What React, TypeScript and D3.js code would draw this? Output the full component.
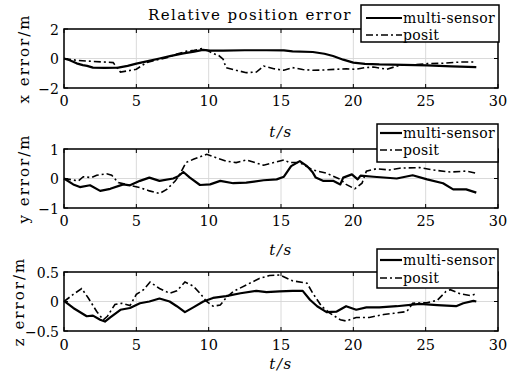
import React from 'react';
import * as d3 from 'd3';

type Pt = [number, number];

const timeTicks = [0, 5, 10, 15, 20, 25, 30];
const xErrTicks = [-2, 0, 2];
const yErrTicks = [-1, 0, 1];
const zErrTicks = [-0.5, 0, 0.5];
const seriesNames = ['multi-sensor', 'posit'];
const panelLabels = ['x error/m', 'y error/m', 'z error/m'];
const chartTitle = 'Relative position error';
const timeLabel = 't/s';

const xMulti: Pt[] = [[0,0],[0.4,-0.12],[0.87,-0.33],[1.3,-0.45],[1.6,-0.5],[2.0,-0.62],[2.8,-0.63],[3.75,-0.62],[4.4,-0.5],[5.0,-0.35],[5.8,-0.18],[6.6,0],[7.4,0.18],[8.25,0.35],[9.0,0.47],[9.6,0.58],[10.1,0.53],[11,0.53],[12.5,0.56],[14,0.56],[15.2,0.55],[15.8,0.48],[17.2,0.44],[18,0.32],[18.6,0.17],[19.3,-0.08],[20.0,-0.28],[20.8,-0.36],[21.8,-0.4],[23.5,-0.43],[25.1,-0.46],[26.8,-0.53],[28.5,-0.58]];
const xPosit: Pt[] = [[0,0],[0.87,-0.12],[2,-0.2],[3.0,-0.25],[3.4,-0.28],[3.9,-0.92],[4.5,-0.82],[5.0,-0.73],[5.7,-0.28],[6.4,-0.1],[7.1,0.05],[7.8,0.3],[8.5,0.5],[9.0,0.55],[9.5,0.67],[9.9,0.55],[10.3,0.35],[10.7,0.2],[11.0,-0.05],[11.2,-0.62],[11.9,-0.8],[12.6,-0.96],[13.3,-0.92],[13.8,-0.51],[14.5,-0.69],[15.2,-0.8],[15.8,-0.62],[16.5,-0.75],[17.2,-0.8],[18.0,-0.78],[18.8,-0.73],[19.5,-0.7],[20.2,-0.73],[20.8,-0.62],[21.4,-0.58],[22.3,-0.73],[23.2,-0.46],[24.2,-0.42],[25.1,-0.35],[26.2,-0.32],[27.4,-0.24],[28.5,-0.24]];

const yMulti: Pt[] = [[0,0],[0.64,-0.2],[1.1,-0.29],[1.8,-0.23],[2.5,-0.42],[3.2,-0.35],[4.1,-0.2],[4.56,-0.23],[5.25,-0.08],[5.9,0.03],[6.6,-0.08],[7.55,0.0],[7.9,0.08],[8.25,0.22],[8.7,0.03],[9.4,-0.22],[10.1,-0.2],[10.8,-0.08],[11.7,-0.16],[12.6,-0.14],[13.8,-0.06],[14.7,-0.03],[15.2,0.06],[15.7,0.42],[16.3,0.59],[16.8,0.42],[17.2,0.2],[17.4,0.03],[17.9,-0.08],[18.6,-0.08],[19.1,-0.2],[19.3,0.03],[19.9,0.14],[20.3,-0.03],[20.5,0.1],[21.4,0.06],[23.0,0.0],[24.1,0.11],[25.1,-0.03],[26.2,-0.16],[26.9,-0.37],[27.8,-0.37],[28.5,-0.48]];
const yPosit: Pt[] = [[0,0],[1.0,-0.08],[1.33,0.06],[1.9,0.03],[2.26,0.11],[2.95,0.16],[3.3,0.11],[3.75,-0.14],[4.56,-0.23],[5.25,-0.31],[5.9,-0.42],[6.6,-0.51],[7.1,-0.37],[7.7,-0.08],[8.0,0.14],[8.43,0.54],[8.94,0.65],[9.86,0.82],[10.55,0.7],[11.2,0.59],[11.9,0.54],[12.6,0.63],[13.8,0.45],[14.5,0.54],[15.2,0.63],[15.6,0.54],[16.3,0.54],[17.2,0.29],[18.15,0.18],[19.1,-0.03],[19.5,-0.2],[20.1,-0.35],[20.6,-0.16],[20.9,0.25],[21.6,0.33],[22.5,0.29],[23.2,0.35],[24.6,0.37],[25.5,0.29],[26.7,0.22],[27.8,0.25],[28.5,0.18]];

const zMulti: Pt[] = [[0,0.01],[0.64,-0.11],[1.57,-0.25],[2.0,-0.24],[2.5,-0.31],[2.83,-0.34],[3.2,-0.27],[3.9,-0.14],[4.56,-0.11],[5.25,-0.03],[5.9,0.0],[6.6,0.05],[7.3,0.0],[7.8,-0.08],[8.36,-0.18],[8.94,-0.1],[9.63,0.0],[10.3,0.06],[11.2,0.09],[12.2,0.14],[13.3,0.18],[14.0,0.16],[14.9,0.17],[15.8,0.18],[16.5,0.18],[17.0,0.03],[17.5,-0.08],[18.15,-0.18],[18.85,-0.17],[19.5,-0.08],[20.2,-0.14],[20.9,-0.1],[21.8,-0.1],[23.0,-0.08],[24.6,-0.04],[25.8,-0.06],[27.1,-0.08],[27.6,-0.03],[28.3,0.01],[28.5,0.0]];
const zPosit: Pt[] = [[0,0],[0.64,0.12],[1.22,0.22],[1.68,0.06],[2.26,-0.17],[2.72,-0.31],[3.0,-0.25],[3.52,-0.05],[4.0,-0.03],[4.56,-0.07],[5.0,0.12],[5.5,0.2],[5.95,0.33],[6.6,0.22],[7.3,0.14],[7.8,0.18],[8.36,0.33],[8.94,0.26],[9.4,0.14],[9.86,0.0],[10.3,-0.08],[10.8,-0.06],[11.2,0.06],[11.7,0.17],[12.6,0.28],[13.5,0.39],[14.2,0.44],[14.9,0.45],[15.8,0.35],[16.8,0.31],[17.2,0.14],[17.8,-0.08],[18.4,-0.2],[19.1,-0.31],[19.5,-0.33],[20.2,-0.27],[21.1,-0.27],[22.1,-0.22],[22.8,-0.2],[23.7,-0.17],[24.1,-0.03],[25.1,-0.02],[25.8,0.02],[26.4,0.17],[26.7,0.2],[27.4,0.13],[28.1,0.1],[28.5,0.13]];

const FONT = 'DejaVu Serif';
const LEFT = 64;
const RIGHT = 498;

interface PanelCfg {
  top: number; bottom: number; domain: [number, number]; ticks: number[];
  multi: Pt[]; posit: Pt[]; label: string; labelX: number;
  leg: { x0: number; x1: number; y0: number; y1: number; s0: number; r1: number; r2: number };
  tickY: number; tsY: number;
}

const panels: PanelCfg[] = [
  { top: 29, bottom: 88, domain: [-2, 2], ticks: xErrTicks, multi: xMulti, posit: xPosit, label: panelLabels[0], labelX: 29,
    leg: { x0: 361, x1: 499, y0: 5, y1: 42, s0: 366, r1: 18, r2: 35 }, tickY: 106, tsY: 137 },
  { top: 149, bottom: 208, domain: [-1, 1], ticks: yErrTicks, multi: yMulti, posit: yPosit, label: panelLabels[1], labelX: 29,
    leg: { x0: 377, x1: 498, y0: 124, y1: 162, s0: 380, r1: 133, r2: 150 }, tickY: 226, tsY: 255 },
  { top: 272, bottom: 331, domain: [-0.5, 0.5], ticks: zErrTicks, multi: zMulti, posit: zPosit, label: panelLabels[2], labelX: 24,
    leg: { x0: 377, x1: 498, y0: 249, y1: 288, s0: 380, r1: 260, r2: 278 }, tickY: 350, tsY: 369 },
];

const fmt = (v: number) => (v < 0 ? '\u2212' + String(Math.abs(v)) : String(v));

function Panel({ p }: { p: PanelCfg }) {
  const x = d3.scaleLinear().domain([0, 30]).range([LEFT, RIGHT]);
  const y = d3.scaleLinear().domain(p.domain).range([p.bottom, p.top]);
  const line = d3.line<Pt>().x(d => x(d[0])).y(d => y(d[1]));
  const mid = (p.top + p.bottom) / 2;
  return (
    <g>
      {timeTicks.map(t => (
        <line key={'gx' + t} x1={x(t)} x2={x(t)} y1={p.top} y2={p.bottom} stroke="#d6d6d6" strokeWidth={0.9} />
      ))}
      {p.ticks.map(v => (
        <line key={'gy' + v} x1={LEFT} x2={RIGHT} y1={y(v)} y2={y(v)} stroke="#d6d6d6" strokeWidth={0.9} />
      ))}
      {timeTicks.map(t => (
        <g key={'tx' + t}>
          <line x1={x(t)} x2={x(t)} y1={p.bottom} y2={p.bottom - 4} stroke="#000" strokeWidth={1} />
          <line x1={x(t)} x2={x(t)} y1={p.top} y2={p.top + 4} stroke="#000" strokeWidth={1} />
          <text x={x(t)} y={p.tickY} textAnchor="middle" fontFamily={FONT} fontSize={14.5}>{t}</text>
        </g>
      ))}
      {p.ticks.map(v => (
        <g key={'ty' + v}>
          <line x1={LEFT} x2={LEFT + 4} y1={y(v)} y2={y(v)} stroke="#000" strokeWidth={1} />
          <line x1={RIGHT} x2={RIGHT - 4} y1={y(v)} y2={y(v)} stroke="#000" strokeWidth={1} />
          <text x={59} y={y(v) + 5.5} textAnchor="end" fontFamily={FONT} fontSize={14}>{fmt(v)}</text>
        </g>
      ))}
      <path d={line(p.posit) || ''} fill="none" stroke="#000" strokeWidth={1.6} strokeDasharray="7 3 2 3" />
      <path d={line(p.multi) || ''} fill="none" stroke="#000" strokeWidth={2.2} strokeLinejoin="round" />
      <rect x={LEFT} y={p.top} width={RIGHT - LEFT} height={p.bottom - p.top} fill="none" stroke="#000" strokeWidth={1.5} />
      <text transform={`translate(${p.labelX},${mid}) rotate(-90)`} textAnchor="middle" fontFamily={FONT} fontSize={15} letterSpacing={2}>{p.label}</text>
      <text x={(LEFT + RIGHT) / 2} y={p.tsY} textAnchor="middle" fontFamily={FONT} fontSize={15} fontStyle="italic" letterSpacing={1.5}>{timeLabel}</text>
      <rect x={p.leg.x0} y={p.leg.y0} width={p.leg.x1 - p.leg.x0} height={p.leg.y1 - p.leg.y0} fill="#fff" stroke="#000" strokeWidth={1.5} />
      <line x1={p.leg.s0} x2={402} y1={p.leg.r1} y2={p.leg.r1} stroke="#000" strokeWidth={2.2} />
      <line x1={p.leg.s0} x2={402} y1={p.leg.r2} y2={p.leg.r2} stroke="#000" strokeWidth={1.6} strokeDasharray="7 3 2 3" />
      <text x={403} y={p.leg.r1 + 5} fontFamily={FONT} fontSize={14} letterSpacing={0.3}>{seriesNames[0]}</text>
      <text x={403} y={p.leg.r2 + 5} fontFamily={FONT} fontSize={14} letterSpacing={0.3}>{seriesNames[1]}</text>
    </g>
  );
}

export default function App() {
  return (
    <svg width={520} height={380} style={{ position: 'absolute', left: 0, top: 0, background: '#fff' }}>
      <rect x={0} y={0} width={520} height={380} fill="#fff" />
      <text x={148} y={20} fontFamily={FONT} fontSize={15} letterSpacing={1.4}>{chartTitle}</text>
      {panels.map((p, i) => <Panel key={i} p={p} />)}
    </svg>
  );
}
